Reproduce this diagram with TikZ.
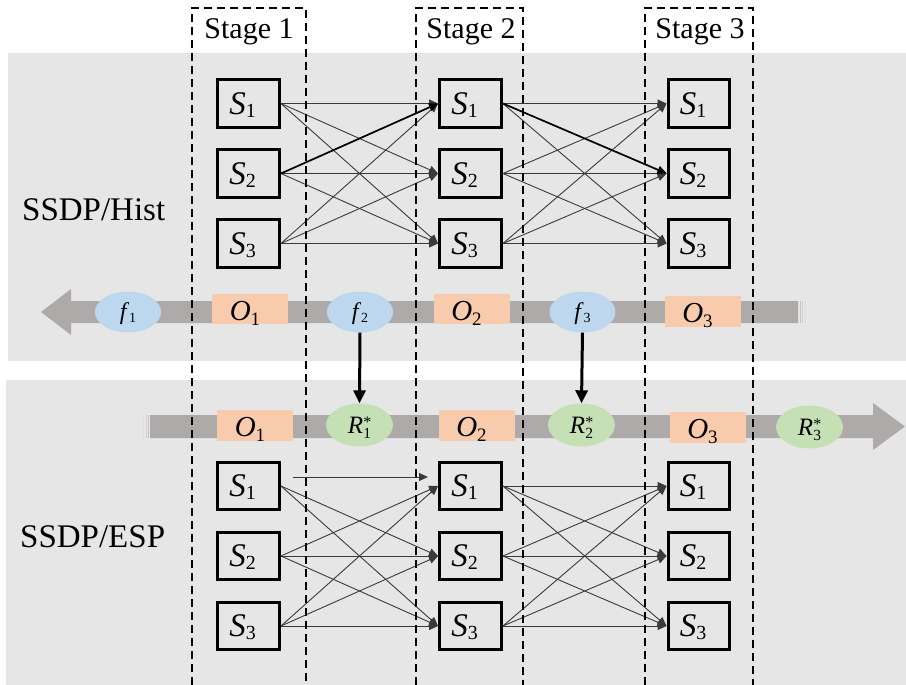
\documentclass[tikz,border=0pt]{standalone}
\usepackage{fontspec}
\setmainfont{Liberation Serif}
\usetikzlibrary{arrows.meta,shapes.geometric}

\definecolor{panelgray}{HTML}{E7E6E6}
\definecolor{bandgray}{HTML}{AEAAAA}
\definecolor{fblue}{HTML}{BDD7EE}
\definecolor{oorange}{HTML}{F8CBAD}
\definecolor{rgreen}{HTML}{C5E0B4}
\definecolor{linkgray}{HTML}{3A3A3A}

% italic symbol with an upright, lowered index; index size and drop come from the node style
\newcommand{\subsz}{18}
\newcommand{\subdrop}{3pt}
\newcommand{\sv}[2]{{\itshape #1\/}\raisebox{-\subdrop}{\fontsize{\subsz}{\subsz}\selectfont #2}}
\newcommand{\rv}[1]{{\itshape R\/}\rlap{\raisebox{5.5pt}{\fontsize{16}{16}\selectfont *}}%
  \raisebox{-\subdrop}{\fontsize{\subsz}{\subsz}\selectfont #1}}

\begin{document}
\begin{tikzpicture}[x=1pt,y=-1pt,
  statebox/.style={draw=black,line width=3.4pt,minimum width=61.5pt,minimum height=47.5pt,
    inner sep=0pt,text height=21pt,text depth=0pt,
    font=\fontsize{33}{35}\selectfont\def\subsz{20}\def\subdrop{3pt}},
  obox/.style={fill=oorange,draw=none,minimum width=76pt,minimum height=30.5pt,inner sep=0pt,
    text height=22pt,text depth=0pt,
    font=\fontsize{29}{31}\selectfont\def\subsz{19}\def\subdrop{5pt}},
  fell/.style={ellipse,fill=fblue,draw=none,minimum width=66pt,minimum height=41pt,inner sep=0pt,
    text height=14pt,text depth=0pt,
    font=\fontsize{24}{26}\selectfont\def\subsz{14}\def\subdrop{3.5pt}},
  rell/.style={ellipse,fill=rgreen,draw=none,minimum width=67pt,minimum height=43pt,inner sep=0pt,
    text height=16pt,text depth=0pt,
    font=\fontsize{25}{27}\selectfont\def\subsz{15.5}\def\subdrop{5pt}},
  stagebox/.style={draw=black,line width=1.3pt,dash pattern=on 8pt off 5pt},
  stagelabel/.style={anchor=base,inner sep=0pt,font=\fontsize{30}{32}\selectfont},
  panellabel/.style={anchor=base west,inner sep=0pt,font=\fontsize{33}{35}\selectfont},
  link/.style={draw=linkgray,line width=0.9pt,-{Triangle[length=9pt,width=8pt]}},
  boldlink/.style={draw=black,line width=1.7pt,-{Triangle[length=9pt,width=8pt]}},
  feed/.style={draw=black,line width=3pt,-{Triangle[length=13pt,width=12pt]}}
]
% canvas and the two grey panels
\fill[white] (0,0) rectangle (906,685);
\useasboundingbox (0,0) rectangle (906,685);
\fill[panelgray] (8,53) rectangle (906,361);
\fill[panelgray] (6,380) rectangle (906,685);

% backward band (upper panel), pointing left
\fill[bandgray] (798,301) -- (71,301) -- (71,289) -- (41,312) -- (71,335) -- (71,323) -- (798,323) -- cycle;
\fill[bandgray!70] (799.5,301) rectangle (800.7,323);
\fill[bandgray!55] (802,301) rectangle (803.2,323);
\fill[bandgray!40] (804.5,301) rectangle (805.7,323);

% forward band (lower panel), pointing right
\fill[bandgray] (150,415) -- (873,415) -- (873,403) -- (905,426.5) -- (873,450) -- (873,438) -- (150,438) -- cycle;
\fill[bandgray!70] (147.8,415) rectangle (149,438);
\fill[bandgray!55] (145.5,415) rectangle (146.7,438);
\fill[bandgray!40] (143.2,415) rectangle (144.4,438);

% items on the upper band
\node[fell] (f1) at (128,312) {\sv{f}{1}};
\node[obox] (uo1) at (250,309) {\sv{O}{1}\hspace*{10pt}};
\node[fell] (f2) at (360,312) {\sv{f}{2}};
\node[obox] (uo2) at (471.5,309) {\sv{O}{2}\hspace*{10pt}};
\node[fell] (f3) at (582.5,312) {\sv{f}{3}};
\node[obox] (uo3) at (702.5,311.5) {\sv{O}{3}\hspace*{10pt}};

% items on the lower band
\node[obox] (lo1) at (255,425.5) {\sv{O}{1}\hspace*{10pt}};
\node[rell] (r1) at (359.5,425) {\rv{1}};
\node[obox] (lo2) at (476.5,425.5) {\sv{O}{2}\hspace*{10pt}};
\node[rell] (r2) at (581.5,425) {\rv{2}};
\node[obox] (lo3) at (707.5,427.5) {\sv{O}{3}\hspace*{10pt}};
\node[rell] (r3) at (809.5,427) {\rv{3}};

% f_t feeds R*_{t-1}
\draw[feed] (f2.south) -- (r1.north);
\draw[feed] (f3.south) -- (r2.north);

% state boxes
\foreach \col/\x in {a/248.5,b/470.5,c/699}{
  \foreach \k/\yu/\yl in {1/103.5/486,2/173.5/556,3/243.5/626}{
    \node[statebox] (u\col\k) at (\x,\yu) {\sv{S}{\k}\hspace*{12pt}};
    \node[statebox] (l\col\k) at (\x,\yl) {\sv{S}{\k}\hspace*{12pt}};
  }
}

% transitions, upper panel
\foreach \i in {1,2,3}{
  \foreach \j in {1,2,3}{
    \draw[link] (ua\i.east) -- (ub\j.west);
    \draw[link] (ub\i.east) -- (uc\j.west);
    \draw[link] (lb\i.east) -- (lc\j.west);
  }
}
\draw[boldlink] (ua2.east) -- (ub1.west);
\draw[boldlink] (ub1.east) -- (uc2.west);

% transitions, lower panel, stage 1 to stage 2
\foreach \i/\j in {1/2,1/3,2/1,2/2,2/3,3/1,3/2,3/3}{
  \draw[link] (la\i.east) -- (lb\j.west);
}
\coordinate (skipA) at (293,477);
\coordinate (skipB) at (428,477);
\draw[link] (skipA) -- (skipB);

% dashed stage frames
\draw[stagebox] (192,685) -- (192,8) -- (306,8) -- (306,685);
\draw[stagebox] (416,685) -- (416,8) -- (523,8) -- (523,685);
\draw[stagebox] (645,685) -- (645,8) -- (753,8) -- (753,685);
\node[stagelabel] (st1) at (249,39) {Stage 1};
\node[stagelabel] (st2) at (471,39) {Stage 2};
\node[stagelabel] (st3) at (700,39) {Stage 3};

% panel titles
\node[panellabel] (hist) at (22,220) {SSDP/Hist};
\node[panellabel] (esp) at (20,547) {SSDP/ESP};
\end{tikzpicture}
\end{document}
